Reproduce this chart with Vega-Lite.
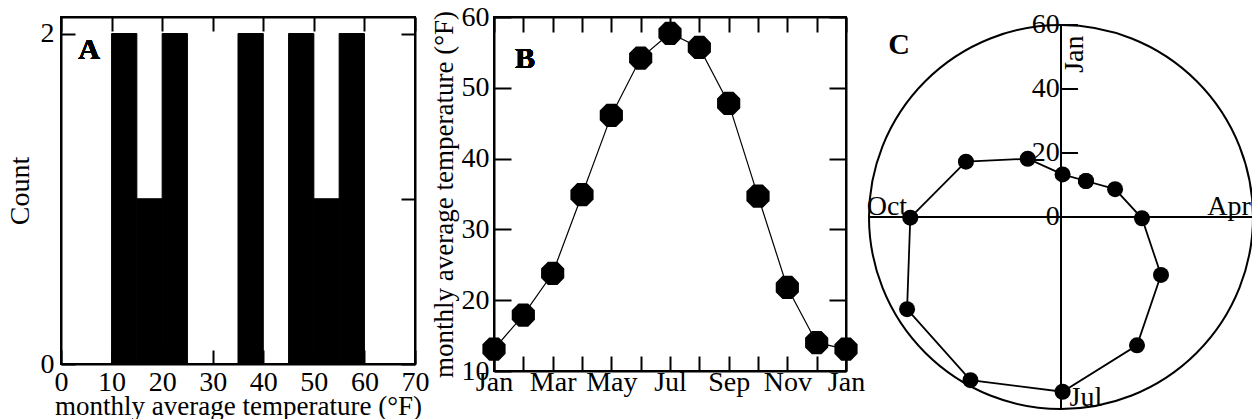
{
  "$schema": "https://vega.github.io/schema/vega-lite/v6.json",
  "background": "white",
  "padding": {"left": 5, "top": 2, "right": 0, "bottom": 0},
  "bounds": "flush",
  "spacing": 79,
  "config": {
    "font": "Liberation Serif",
    "view": {"stroke": "black", "strokeWidth": 2},
    "axis": {
      "domainColor": "black", "domainWidth": 2,
      "tickColor": "black", "tickWidth": 2,
      "labelColor": "black", "titleColor": "black",
      "labelFont": "Liberation Serif", "titleFont": "Liberation Serif",
      "labelFontSize": 28, "titleFontSize": 27, "titleFontWeight": "normal",
      "grid": false, "labelFlush": false, "labelOverlap": false
    }
  },
  "hconcat": [
    {
      "width": 354, "height": 347,
      "data": {"values": [
        {"start": 10, "end": 15, "count": 2},
        {"start": 15, "end": 20, "count": 1},
        {"start": 20, "end": 25, "count": 2},
        {"start": 25, "end": 30, "count": 0},
        {"start": 30, "end": 35, "count": 0},
        {"start": 35, "end": 40, "count": 2},
        {"start": 40, "end": 45, "count": 0},
        {"start": 45, "end": 50, "count": 2},
        {"start": 50, "end": 55, "count": 1},
        {"start": 55, "end": 60, "count": 2}
      ]},
      "layer": [
        {
          "mark": {"type": "rect", "color": "black", "stroke": "black", "strokeWidth": 1},
          "encoding": {
            "x": {"field": "start", "type": "quantitative",
                  "scale": {"domain": [0, 70], "nice": false, "zero": false},
                  "axis": {"values": [0, 10, 20, 30, 40, 50, 60, 70], "format": "d", "tickSize": -14, "labelPadding": 18,
                           "title": "monthly average temperature (°F)", "titlePadding": -3}},
            "x2": {"field": "end"},
            "y": {"field": "count", "type": "quantitative",
                  "scale": {"domain": [0, 2.1], "nice": false},
                  "axis": {"values": [0, 1, 2], "format": "d", "tickSize": -14, "labelPadding": 21,
                           "title": "Count", "titlePadding": 6, "titleFontSize": 28}},
            "y2": {"datum": 0}
          }
        },
        {
          "mark": {"type": "point", "opacity": 0},
          "encoding": {
            "x": {"field": "start", "type": "quantitative",
                  "axis": {"orient": "top", "values": [0, 10, 20, 30, 40, 50, 60, 70], "tickSize": -14, "labels": false, "title": null}},
            "y": {"field": "count", "type": "quantitative",
                  "axis": {"orient": "right", "values": [0, 1, 2], "tickSize": -14, "labels": false, "title": null}}
          }
        },
        {
          "mark": {"type": "text", "text": "A", "fontSize": 30, "fontWeight": "bold", "align": "center", "baseline": "alphabetic", "color": "black"},
          "encoding": {
            "x": {"datum": 5.54, "axis": null},
            "y": {"datum": 1.846, "axis": null}
          }
        }
      ],
      "resolve": {"axis": {"x": "independent", "y": "independent"}}
    },
    {
      "spacing": 23,
      "bounds": "flush",
      "hconcat": [
        {
          "width": 352, "height": 354,
          "data": {"values": [
            {"m": 0, "month": "Jan", "temp": 13.1},
            {"m": 1, "month": "Feb", "temp": 17.9},
            {"m": 2, "month": "Mar", "temp": 23.8},
            {"m": 3, "month": "Apr", "temp": 34.9},
            {"m": 4, "month": "May", "temp": 46.1},
            {"m": 5, "month": "Jun", "temp": 54.2},
            {"m": 6, "month": "Jul", "temp": 57.7},
            {"m": 7, "month": "Aug", "temp": 55.7},
            {"m": 8, "month": "Sep", "temp": 47.8},
            {"m": 9, "month": "Oct", "temp": 34.7},
            {"m": 10, "month": "Nov", "temp": 21.8},
            {"m": 11, "month": "Dec", "temp": 14.0},
            {"m": 12, "month": "Jan", "temp": 13.1}
          ]},
          "layer": [
            {
              "mark": {"type": "line", "color": "black", "strokeWidth": 1.2},
              "encoding": {
                "x": {"field": "m", "type": "quantitative",
                      "scale": {"domain": [0, 12], "nice": false, "zero": false},
                      "axis": {"values": [0, 1, 2, 3, 4, 5, 6, 7, 8, 9, 10, 11, 12], "tickSize": -15, "labelPadding": 12,
                               "labelExpr": "datum.value % 2 == 0 ? ['Jan','Mar','May','Jul','Sep','Nov','Jan'][datum.value / 2] : ''",
                               "title": null}},
                "y": {"field": "temp", "type": "quantitative",
                      "scale": {"domain": [10, 60], "nice": false, "zero": false},
                      "axis": {"values": [10, 20, 30, 40, 50, 60], "format": "d", "tickSize": -17, "labelPadding": 22,
                               "title": "monthly average temperature (°F)", "titlePadding": 3}}
              }
            },
            {
              "mark": {"type": "point", "filled": true, "color": "black", "opacity": 1, "size": 630,
                       "shape": "M0.383,-0.924L0.924,-0.383L0.924,0.383L0.383,0.924L-0.383,0.924L-0.924,0.383L-0.924,-0.383L-0.383,-0.924Z"},
              "encoding": {
                "x": {"field": "m", "type": "quantitative",
                      "axis": {"orient": "top", "values": [0, 1, 2, 3, 4, 5, 6, 7, 8, 9, 10, 11, 12], "tickSize": -15, "labels": false, "title": null}},
                "y": {"field": "temp", "type": "quantitative",
                      "axis": {"orient": "right", "values": [10, 20, 30, 40, 50, 60], "tickSize": -17, "labels": false, "title": null}}
              }
            },
            {
              "mark": {"type": "text", "text": "B", "fontSize": 30, "fontWeight": "bold", "align": "center", "baseline": "alphabetic", "color": "black"},
              "encoding": {
                "x": {"datum": 1.057, "axis": null},
                "y": {"datum": 52.8, "axis": null}
              }
            }
          ],
          "resolve": {"axis": {"x": "independent", "y": "independent"}}
        },
        {
          "width": 384, "height": 400,
          "view": {"stroke": null},
          "layer": [
            {
              "data": {"values": [{}]},
              "mark": {"type": "point", "shape": "circle", "filled": false, "stroke": "black", "strokeWidth": 2, "opacity": 1, "size": 147456},
              "encoding": {
                "x": {"datum": 0, "type": "quantitative", "scale": {"domain": [-60, 60], "nice": false, "zero": false}, "axis": null},
                "y": {"datum": 0, "type": "quantitative", "scale": {"domain": [-62.5, 62.5], "nice": false, "zero": false}, "axis": null}
              }
            },
            {
              "data": {"values": [{}]},
              "mark": {"type": "rule", "color": "black", "strokeWidth": 2},
              "encoding": {
                "x": {"datum": -60, "axis": null},
                "x2": {"datum": 60},
                "y": {"datum": 0, "axis": null}
              }
            },
            {
              "data": {"values": [{}]},
              "mark": {"type": "rule", "color": "black", "strokeWidth": 2},
              "encoding": {
                "x": {"datum": 0, "axis": null},
                "y": {"datum": -60, "axis": null},
                "y2": {"datum": 60}
              }
            },
            {
              "data": {"values": [{"r": 20}, {"r": 40}, {"r": 60}]},
              "mark": {"type": "rule", "color": "black", "strokeWidth": 2},
              "encoding": {
                "x": {"datum": 0, "axis": null},
                "x2": {"datum": 5.3},
                "y": {"field": "r", "type": "quantitative", "axis": null}
              }
            },
            {
              "data": {"values": [{"r": 0}, {"r": 20}, {"r": 40}, {"r": 60}]},
              "mark": {"type": "text", "fontSize": 28, "align": "right", "baseline": "middle", "color": "black"},
              "encoding": {
                "x": {"datum": -0.4, "axis": null},
                "y": {"field": "r", "type": "quantitative", "axis": null},
                "text": {"field": "r", "type": "quantitative", "format": "d"}
              }
            },
            {
              "data": {"name": "polar", "values": [
                {"i": 0, "month": "Jan", "x": 7.8, "y": 11.25},
                {"i": 1, "month": "Feb", "x": 16.9, "y": 8.7},
                {"i": 2, "month": "Mar", "x": 25.3, "y": -0.4},
                {"i": 3, "month": "Apr", "x": 31.25, "y": -18.1},
                {"i": 4, "month": "May", "x": 23.75, "y": -40.1},
                {"i": 5, "month": "Jun", "x": 0.5, "y": -54.6},
                {"i": 6, "month": "Jul", "x": -28.3, "y": -51.0},
                {"i": 7, "month": "Aug", "x": -48.1, "y": -28.8},
                {"i": 8, "month": "Sep", "x": -47.1, "y": -0.2},
                {"i": 9, "month": "Oct", "x": -29.7, "y": 17.3},
                {"i": 10, "month": "Nov", "x": -10.4, "y": 18.2},
                {"i": 11, "month": "Dec", "x": 0.5, "y": 13.3},
                {"i": 12, "month": "Jan", "x": 7.8, "y": 11.25}
              ]},
              "layer": [
                {
                  "mark": {"type": "line", "color": "black", "strokeWidth": 1.8},
                  "encoding": {
                    "x": {"field": "x", "type": "quantitative", "axis": null},
                    "y": {"field": "y", "type": "quantitative", "axis": null},
                    "order": {"field": "i", "type": "quantitative"}
                  }
                },
                {
                  "mark": {"type": "point", "shape": "circle", "filled": true, "color": "black", "opacity": 1, "size": 256},
                  "encoding": {
                    "x": {"field": "x", "type": "quantitative", "axis": null},
                    "y": {"field": "y", "type": "quantitative", "axis": null}
                  }
                }
              ]
            },
            {
              "data": {"values": [
                {"label": "Oct", "lx": -54.4, "ly": 0.6},
                {"label": "Apr", "lx": 52.5, "ly": 0.6},
                {"label": "Jul", "lx": 7.8, "ly": -59}
              ]},
              "mark": {"type": "text", "fontSize": 28, "align": "center", "baseline": "alphabetic", "color": "black"},
              "encoding": {
                "x": {"field": "lx", "type": "quantitative", "axis": null},
                "y": {"field": "ly", "type": "quantitative", "axis": null},
                "text": {"field": "label"}
              }
            },
            {
              "data": {"values": [{"label": "Jan", "lx": 4.4, "ly": 50.9}]},
              "mark": {"type": "text", "fontSize": 28, "align": "center", "baseline": "middle", "angle": 270, "color": "black"},
              "encoding": {
                "x": {"field": "lx", "type": "quantitative", "axis": null},
                "y": {"field": "ly", "type": "quantitative", "axis": null},
                "text": {"field": "label"}
              }
            },
            {
              "data": {"values": [{}]},
              "mark": {"type": "text", "text": "C", "fontSize": 30, "fontWeight": "bold", "align": "center", "baseline": "alphabetic", "color": "black"},
              "encoding": {
                "x": {"datum": -50.6, "axis": null},
                "y": {"datum": 50.9, "axis": null}
              }
            }
          ]
        }
      ]
    }
  ]
}
